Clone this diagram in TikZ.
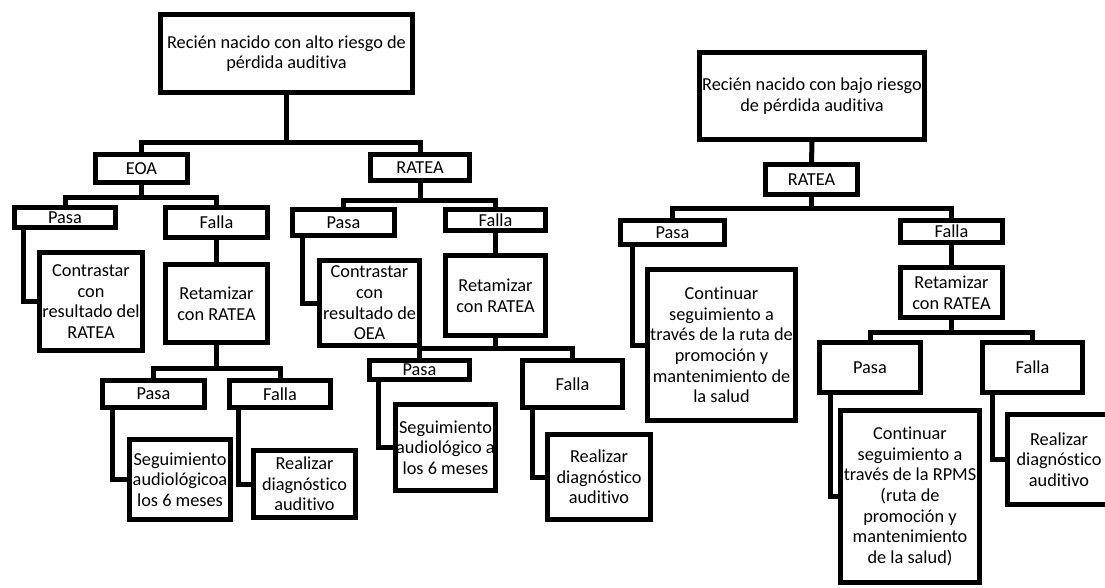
\documentclass[tikz,border=0pt]{standalone}
\usepackage{fontspec}
\setmainfont[Ligatures=NoCommon]{Carlito}
\usetikzlibrary{calc}
\newcommand\ml[1]{\makebox[0pt]{#1}}
\tikzset{
  box/.style={draw, line width=5pt, inner sep=0pt, align=center, fill=white,
    font=\fontsize{18.3}{20.7}\selectfont},
  conn/.style={line width=5pt}
}
% name, x1, y1, x2, y2 (outer edges, pixels), text
\newcommand\bx[6]{\node[box, minimum width={#4-#2-5}, minimum height={#5-#3-5}] (#1) at ({(#2+#4)/2},{(#3+#5)/2}) {#6};}
% fork: parent, left child, right child, bar coordinate
\newcommand\fork[4]{%
  \draw[conn] (#1.south) -- (#1.south |- #4);
  \draw[conn] (#2.north) |- (#1.south |- #4) -| (#3.north);}
\begin{document}
\begin{tikzpicture}[x=1pt,y=-1pt]
\useasboundingbox[fill=white] (0,0) rectangle (1105,587);
% ---- left tree (alto riesgo)
\bx{rootL}{158}{12}{415}{95}{\ml{Recién nacido con alto riesgo de}\\\ml{pérdida auditiva}}
\bx{eoa}{93}{152}{190}{185}{EOA}
\bx{pasaA}{12}{205}{118}{230}{Pasa}
\bx{fallaA}{163}{205}{270}{240}{Falla}
\bx{contrA}{37}{250}{145}{353}{\ml{Contrastar}\\\ml{con}\\\ml{resultado del}\\\ml{RATEA}}
\bx{retA}{163}{262}{270}{345}{\ml{Retamizar}\\\ml{con RATEA}}
\bx{pasaA2}{100}{378}{207}{410}{Pasa}
\bx{fallaA2}{227}{378}{333}{410}{Falla}
\bx{segA}{127}{437}{233}{522}{\ml{Seguimiento}\\\ml{audiológicoa}\\\ml{los 6 meses}}
\bx{realA}{251}{448}{358}{520}{\ml{Realizar}\\\ml{diagnóstico}\\\ml{auditivo}}
\bx{rateaL}{368}{152}{472}{183}{RATEA}
\bx{pasaB}{290}{207}{397}{238}{Pasa}
\bx{fallaB}{443}{207}{548}{233}{Falla}
\bx{contrB}{317}{258}{422}{348}{\ml{Contrastar}\\\ml{con}\\\ml{resultado de}\\\ml{OEA}}
\bx{retB}{443}{253}{548}{338}{\ml{Retamizar}\\\ml{con RATEA}}
\bx{pasaB2}{367}{358}{472}{382}{Pasa}
\bx{fallaB2}{520}{358}{625}{410}{Falla}
\bx{segB}{393}{402}{498}{493}{\ml{Seguimiento}\\\ml{audiológico a}\\\ml{los 6 meses}}
\bx{realB}{545}{432}{653}{522}{\ml{Realizar}\\\ml{diagnóstico}\\\ml{auditivo}}
% ---- right tree (bajo riesgo)
\bx{rootR}{697}{50}{927}{142}{\ml{Recién nacido con bajo riesgo}\\\ml{de pérdida auditiva}}
\bx{rateaR}{763}{162}{860}{197}{RATEA}
\bx{pasaC}{618}{218}{727}{247}{Pasa}
\bx{fallaC}{898}{218}{1005}{245}{Falla}
\bx{contC}{645}{267}{798}{423}{\ml{Continuar}\\\ml{seguimiento a}\\\ml{través de la ruta de}\\\ml{promoción y}\\\ml{mantenimiento de}\\\ml{la salud}}
\bx{retC}{898}{265}{1005}{320}{\ml{Retamizar}\\\ml{con RATEA}}
\bx{pasaC2}{817}{340}{923}{395}{Pasa}
\bx{fallaC2}{980}{340}{1085}{395}{Falla}
\bx{contC2}{838}{408}{982}{585}{\ml{Continuar}\\\ml{seguimiento a}\\\ml{través de la RPMS}\\\ml{(ruta de}\\\ml{promoción y}\\\ml{mantenimiento}\\\ml{de la salud)}}
\bx{realC}{1005}{412}{1113}{507}{\ml{Realizar}\\\ml{diagnóstico}\\\ml{auditivo}}
% ---- bar levels
\coordinate (bRootL) at (0,142);
\coordinate (bEoa) at (0,197);
\coordinate (bRetA) at (0,368);
\coordinate (bRateaL) at (0,200);
\coordinate (bRetB) at (0,348);
\coordinate (bRateaR) at (0,208);
\coordinate (bRetC) at (0,332);
% ---- connectors
\fork{rootL}{eoa}{rateaL}{bRootL}
\fork{eoa}{pasaA}{fallaA}{bEoa}
\fork{retA}{pasaA2}{fallaA2}{bRetA}
\fork{rateaL}{pasaB}{fallaB}{bRateaL}
\fork{retB}{pasaB2}{fallaB2}{bRetB}
\fork{rateaR}{pasaC}{fallaC}{bRateaR}
\fork{retC}{pasaC2}{fallaC2}{bRetC}
\draw[conn] (fallaA.south) -- (retA.north);
\draw[conn] (fallaB.south) -- (retB.north);
\draw[conn] (fallaC.south) -- (retC.north);
\draw[conn] (rootR.south) -- (rateaR.north);
% elbows
\draw[conn] ([xshift=11pt]pasaA.south west) |- (contrA.west);
\draw[conn] ([xshift=12pt]pasaA2.south west) |- (segA.west);
\draw[conn] ([xshift=11pt]fallaA2.south west) |- (realA.west);
\draw[conn] ([xshift=12pt]pasaB.south west) |- (contrB.west);
\draw[conn] ([xshift=11pt]pasaB2.south west) |- (segB.west);
\draw[conn] ([xshift=12pt]fallaB2.south west) |- (realB.west);
\draw[conn] ([xshift=14pt]pasaC.south west) |- (contC.west);
\draw[conn] ([xshift=13pt]pasaC2.south west) |- (contC2.west);
\draw[conn] ([xshift=12pt]fallaC2.south west) |- (realC.west);
\end{tikzpicture}
\end{document}
